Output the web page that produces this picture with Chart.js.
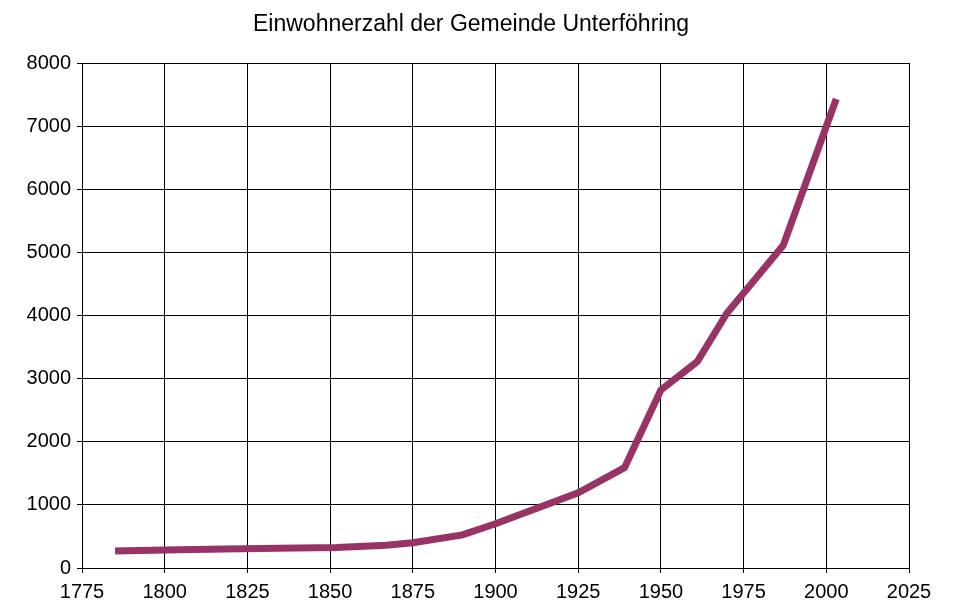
<!DOCTYPE html>
<html>
<head>
<meta charset="utf-8">
<script src="https://cdn.jsdelivr.net/npm/chart.js@4/dist/chart.umd.min.js"></script>
<style>
  html, body { margin: 0; padding: 0; background: #fff; }
  #wrap { width: 953px; height: 614px; }
</style>
</head>
<body>
<div id="wrap"><canvas id="chart_einwohner"></canvas></div>
<script>
// Einwohnerzahl Unterföhring
let jahre = [1785, 1800, 1818, 1840, 1852, 1867, 1875, 1890, 1900, 1925, 1939, 1950, 1961, 1970, 1987, 2003];
let einwohner = [270, 285, 300, 315, 325, 360, 400, 525, 700, 1190, 1590, 2820, 3270, 4040, 5115, 7430];
let xTicks = [1775, 1800, 1825, 1850, 1875, 1900, 1925, 1950, 1975, 2000, 2025];
let yTicks = [0, 1000, 2000, 3000, 4000, 5000, 6000, 7000, 8000];

Chart.defaults.font.family = "'Liberation Sans', Arial, sans-serif";
Chart.defaults.color = '#000';

let points = jahre.map((j, i) => ({ x: j, y: einwohner[i] }));

let ctx_einwohner = document.getElementById("chart_einwohner");
let chart_einwohner = new Chart(ctx_einwohner, {
    type: 'scatter',
    data: {
        datasets: [{
            label: 'Einwohner',
            data: points,
            showLine: true,
            borderColor: '#993366',
            backgroundColor: '#993366',
            borderWidth: 7,
            pointRadius: 0,
            tension: 0
        }]
    },
    options: {
        responsive: true,
        maintainAspectRatio: false,
        animation: false,
        layout: {
            padding: { left: 0, right: 11, top: 0, bottom: 0 }
        },
        plugins: {
            legend: { display: false },
            tooltip: { enabled: false },
            title: {
                display: true,
                text: 'Einwohnerzahl der Gemeinde Unterföhring',
                color: '#000',
                font: { size: 23, weight: 'normal' },
                padding: { top: 11, bottom: 24.4 }
            }
        },
        scales: {
            x: {
                type: 'linear',
                min: xTicks[0],
                max: xTicks[xTicks.length - 1],
                afterBuildTicks: s => { s.ticks = xTicks.map(v => ({ value: v })); },
                afterFit: s => { s.height = 46; },
                grid: { color: '#000', lineWidth: 1, tickLength: 5 },
                border: { color: '#000' },
                ticks: {
                    padding: 7,
                    font: { size: 20 },
                    callback: v => String(v)
                }
            },
            y: {
                min: yTicks[0],
                max: yTicks[yTicks.length - 1],
                afterBuildTicks: s => { s.ticks = yTicks.map(v => ({ value: v })); },
                afterFit: s => { s.width = 82; },
                grid: { color: '#000', lineWidth: 1, tickLength: 5 },
                border: { color: '#000' },
                ticks: {
                    padding: 6,
                    font: { size: 20 },
                    callback: v => String(v)
                }
            },
            // leerer Rand rechts
            rechts: {
                position: 'right',
                display: true,
                grid: { display: false },
                border: { display: false },
                ticks: { display: false },
                afterFit: s => { s.width = 33; }
            }
        }
    }
});
</script>
</body>
</html>
